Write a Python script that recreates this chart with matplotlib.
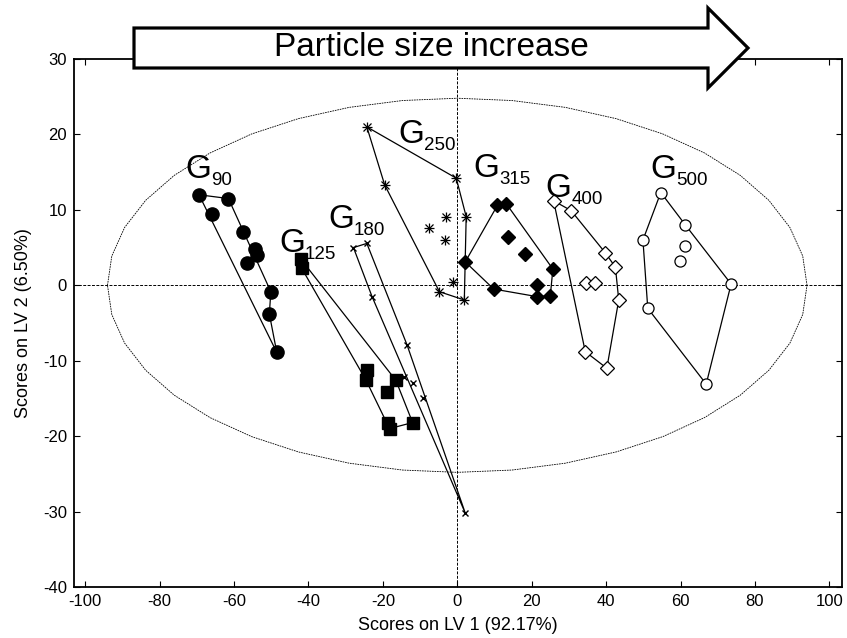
import numpy as np
import matplotlib
matplotlib.use("Agg")
import matplotlib.pyplot as plt
from matplotlib.patches import Polygon

plt.rcParams['font.family'] = ['Liberation Sans', 'DejaVu Sans']
plt.rcParams['axes.unicode_minus'] = False

# ---- data ----
g90_x = [-69.4, -61.5, -65.8, -57.6, -54.3, -53.7, -56.5, -50.1, -50.5, -48.5]
g90_y = [12.0, 11.5, 9.5, 7.1, 4.8, 4.0, 2.9, -0.85, -3.8, -8.9]
g90_outline = [0, 1, 7, 8, 9]

g125_x = [-42.0, -41.8, -24.3, -24.5, -16.5, -18.9, -18.7, -18.2, -12.0]
g125_y = [3.45, 2.25, -11.2, -12.6, -12.6, -14.2, -18.2, -19.0, -18.2]
g125_outline = [1, 3, 7, 8, 4, 0]

g180_x = [-27.9, -24.3, -22.9, -13.5, -14.4, -11.8, -9.3, 2.15]
g180_y = [5.0, 5.55, -1.5, -7.9, -12.1, -13.0, -15.0, -30.2]
g180_outline = [0, 1, 3, 7, 2]

g250_x = [-24.3, -19.5, -0.27, 2.4, -2.96, -7.5, -3.2, -1.2, -4.8, 1.9]
g250_y = [21.0, 13.3, 14.2, 9.1, 9.0, 7.55, 6.0, 0.48, -0.85, -1.95]
g250_outline = [0, 2, 3, 9, 8, 1]

g315_x = [10.8, 13.2, 13.6, 18.1, 25.7, 2.15, 9.8, 21.3, 21.4, 25.0]
g315_y = [10.6, 10.8, 6.4, 4.15, 2.15, 3.1, -0.5, 0.04, -1.5, -1.4]
g315_outline = [5, 0, 1, 4, 9, 8, 6]

g400_x = [25.9, 30.6, 39.8, 42.5, 43.4, 34.7, 37.1, 34.4, 40.2]
g400_y = [11.2, 9.9, 4.3, 2.4, -1.95, 0.26, 0.26, -8.8, -11.0]
g400_outline = [0, 1, 2, 3, 4, 8, 7]

g500_x = [54.7, 61.3, 61.3, 59.8, 49.9, 51.2, 73.6, 66.9]
g500_y = [12.3, 8.0, 5.2, 3.26, 6.0, -3.05, 0.17, -13.1]
g500_outline = [0, 1, 6, 7, 5, 4]

group_names = ['90', '125', '180', '250', '315', '400', '500']
label_x = [-73.1, -47.8, -34.7, -15.9, 4.3, 23.7, 51.9]
label_y = [14.2, 4.35, 7.6, 18.9, 14.4, 11.7, 14.2]

ellipse_a = 94.0
ellipse_b = 24.8

x_ticks = [-100, -80, -60, -40, -20, 0, 20, 40, 60, 80, 100]
y_ticks = [-40, -30, -20, -10, 0, 10, 20, 30]

# ---- figure ----
W, H = 847, 638
fig = plt.figure(figsize=(W / 100, H / 100), dpi=100)
ax = fig.add_axes([74 / W, 1 - 587 / H, (842 - 74) / W, (587 - 59) / H])

ax.set_xlim(-103, 103.4)
ax.set_ylim(-40, 30)

# confidence ellipse
t = np.linspace(0, 2 * np.pi, 41)
ax.plot(ellipse_a * np.cos(t), ellipse_b * np.sin(t), color='black',
        lw=0.6, ls=(0, (2, 1)), zorder=1)
# zero lines
ax.axhline(0, color='black', lw=0.7, ls=(0, (3, 1.5)), zorder=1)
ax.axvline(0, color='black', lw=0.7, ls=(0, (3, 1.5)), zorder=1)

groups = [
    (g90_x, g90_y, g90_outline, dict(marker='o', ms=9.5, mfc='black', mec='black')),
    (g125_x, g125_y, g125_outline, dict(marker='s', ms=8.5, mfc='black', mec='black')),
    (g180_x, g180_y, g180_outline, dict(marker='x', ms=5, mfc='none', mec='black', mew=1)),
    (g250_x, g250_y, g250_outline, None),
    (g315_x, g315_y, g315_outline, dict(marker='D', ms=7, mfc='black', mec='black')),
    (g400_x, g400_y, g400_outline, dict(marker='D', ms=7, mfc='white', mec='black', mew=0.9)),
    (g500_x, g500_y, g500_outline, dict(marker='o', ms=8, mfc='white', mec='black', mew=0.9)),
]

for gx, gy, outline, style in groups:
    gx = np.asarray(gx)
    gy = np.asarray(gy)
    idx = list(outline) + [outline[0]]
    ax.plot(gx[idx], gy[idx], color='black', lw=0.9, zorder=2)
    if style is None:
        # MATLAB-style asterisk: plus + cross
        ax.plot(gx, gy, ls='none', marker='+', ms=7, mec='black', mew=0.9, zorder=3)
        ax.plot(gx, gy, ls='none', marker='x', ms=5.5, mec='black', mew=0.9, zorder=3)
    else:
        ax.plot(gx, gy, ls='none', zorder=3, **style)

for name, lx, ly in zip(group_names, label_x, label_y):
    ax.text(lx, ly, 'G', fontsize=24, ha='left', va='baseline', zorder=4)
    ax.annotate(name, xy=(lx, ly), xytext=(18.5, -5), textcoords='offset points',
                fontsize=13.5, ha='left', va='baseline', zorder=4)

ax.set_xticks(x_ticks)
ax.set_yticks(y_ticks)
ax.tick_params(direction='in', length=4, width=0.8, top=True, right=True,
               labelsize=12, pad=5)
for s in ax.spines.values():
    s.set_linewidth(1.3)

ax.set_xlabel('Scores on LV 1 (92.17%)', fontsize=13, labelpad=6)
ax.set_ylabel('Scores on LV 2 (6.50%)', fontsize=13, labelpad=8)

# block arrow above the axes (pixel coordinates, y from top)
body_left, body_top, body_bot = 134, 28, 68
head_base, head_top, head_bot, tip_x = 708, 8, 88, 748
mid = (body_top + body_bot) / 2
verts_px = [(body_left, body_top), (head_base, body_top), (head_base, head_top),
            (tip_x, mid), (head_base, head_bot), (head_base, body_bot),
            (body_left, body_bot)]
verts = [(x / W, 1 - y / H) for x, y in verts_px]
arrow = Polygon(verts, closed=True, facecolor='white', edgecolor='black',
                lw=2.3, joinstyle='miter', transform=fig.transFigure, zorder=10)
fig.add_artist(arrow)
fig.text(431 / W, 1 - 48 / H, 'Particle size increase', fontsize=24,
         ha='center', va='center', zorder=11)

fig.savefig('out.png', dpi=100)
